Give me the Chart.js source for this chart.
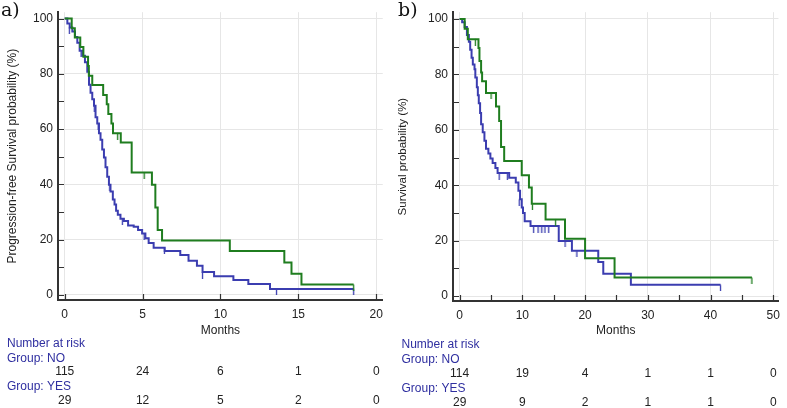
<!DOCTYPE html>
<html lang="en">
<head>
<meta charset="UTF-8">
<title>Kaplan-Meier curves</title>
<script src="https://cdn.jsdelivr.net/npm/chart.js"></script>
<style>
  body { margin: 0; background: #fff; }
  #wrap { position: relative; width: 787px; height: 408px; }
  canvas { position: absolute; top: 0; }
</style>
</head>
<body>
<div id="wrap">
  <canvas id="pfsChart" width="390" height="408" style="left:0"></canvas>
  <canvas id="osChart" width="397" height="408" style="left:390px"></canvas>
</div>
<script>
// a) progression-free survival (months, % after each step)
const pfsNoMonths = [0, 0.17, 0.32, 0.49, 0.66, 0.81, 0.96, 1.13, 1.3, 1.45, 1.56, 1.66, 1.77, 1.88, 1.98, 2.09, 2.2, 2.3, 2.41, 2.52, 2.62, 2.73, 2.84, 2.94, 3.09, 3.2, 3.3, 3.41, 3.58, 3.8, 4.07, 4.43, 4.71, 4.97, 5.18, 5.39, 5.71, 6.42, 7.42, 7.95, 8.49, 8.85, 9.59, 10.83, 11.79, 13.18, 18.55];
const pfsNoSurv   = [100, 98.2, 96.8, 95.3, 93.3, 91.2, 88.3, 86.5, 84.2, 80.7, 76, 73.1, 70.8, 68.4, 64.3, 62, 58.5, 56.1, 52.6, 49.7, 46.2, 42.7, 39.8, 37.4, 34.5, 32.7, 30.4, 29, 27.5, 26.7, 25.1, 24.6, 23.4, 22.2, 20.5, 18.7, 17, 15.8, 14.4, 12.3, 10.5, 8.2, 6.7, 5.3, 3.9, 2.1, 2.1];
const pfsYesMonths = [0, 0.45, 0.65, 1.0, 1.2, 1.5, 1.55, 1.77, 2.47, 2.7, 2.8, 3.0, 3.1, 3.6, 4.3, 5.6, 5.82, 5.97, 6.25, 10.6, 14.1, 14.56, 15.2, 18.55];
const pfsYesSurv   = [100, 96.5, 93.1, 89.7, 86.2, 82.8, 79.3, 75.9, 72.3, 69, 65.4, 62, 58.5, 55.1, 44.3, 39.8, 31.6, 23.4, 19.6, 15.8, 11.7, 7.6, 3.7, 3.7];
const pfsNoCensor  = [[0.3, 96.8], [1.05, 88.3], [1.9, 68.4], [2.15, 62], [2.9, 39.8], [3.7, 27.5], [5.1, 22.2], [6.4, 17], [8.85, 8.2], [13.6, 2.1], [18.55, 2.1]];
const pfsYesCensor = [[3.4, 58.5], [5.1, 44.3], [18.55, 3.7]];
const pfsRiskTimes = [0, 5, 10, 15, 20];
const pfsRiskNo    = [115, 24, 6, 1, 0];
const pfsRiskYes   = [29, 12, 5, 2, 0];
const pfsXTicks    = [0, 5, 10, 15, 20];

// b) overall survival
const osNoMonths = [0, 0.4, 0.8, 1.16, 1.47, 1.68, 1.9, 2.1, 2.37, 2.5, 2.74, 2.9, 3.05, 3.26, 3.42, 3.68, 3.95, 4.2, 4.58, 4.9, 5.26, 5.7, 6.05, 7.9, 8.95, 9.37, 9.63, 9.9, 10.1, 10.37, 11.3, 15.8, 17.9, 22.1, 22.9, 27.3, 41.6];
const osNoSurv   = [100, 98.8, 97.1, 94.2, 91.8, 88.9, 86, 83.6, 81.9, 78.9, 75.4, 72.5, 69.6, 66.1, 62, 59.1, 56.1, 53.2, 51.5, 49.7, 48, 46.2, 44.4, 42.7, 41, 38, 35, 32, 30, 27, 25.3, 19.9, 16.4, 12.3, 8.1, 4.1, 4.1];
const osYesMonths = [0, 0.8, 1.3, 3.0, 3.16, 3.42, 3.58, 4.2, 5.8, 6.3, 6.6, 7.1, 9.9, 11.05, 11.5, 13.7, 16.8, 20.0, 24.7, 46.6];
const osYesSurv   = [100, 96.5, 92.7, 89.5, 84.8, 80.7, 77.5, 73.3, 68.4, 63.2, 53.8, 48.8, 43.6, 39.2, 33.3, 27.7, 20.7, 13.7, 6.7, 6.7];
const osNoCensor  = [[6.3, 44.4], [7.6, 44.4], [9.5, 35], [11.8, 25.3], [12.5, 25.3], [13.1, 25.3], [13.6, 25.3], [14.2, 25.3], [16.8, 19.9], [18.7, 16.4], [41.6, 4.1]];
const osYesCensor = [[2.5, 92.7], [5.0, 73.3], [11.6, 33.3], [15.3, 27.7], [46.6, 6.7]];
const osRiskTimes = [0, 10, 20, 30, 40, 50];
const osRiskNo    = [114, 19, 4, 1, 1, 0];
const osRiskYes   = [29, 9, 2, 1, 1, 0];
const osXTicks    = [0, 5, 10, 15, 20, 25, 30, 35, 40, 45, 50];

const yTicks = [0, 10, 20, 30, 40, 50, 60, 70, 80, 90, 100];

const blue = '#3b3db0';
const green = '#1f7d1f';
const axisColor = '#333';
const labelBlue = '#2f2fa0';

Chart.defaults.font.family = '"Liberation Sans", Arial, sans-serif';
Chart.defaults.color = '#222';

// small downward tick used as censoring mark
function censorMark(color) {
    const c = document.createElement('canvas');
    c.width = 3; c.height = 13;
    const g = c.getContext('2d');
    g.strokeStyle = color;
    g.lineWidth = 1.3;
    g.beginPath();
    g.moveTo(1.5, 6.5);
    g.lineTo(1.5, 13);
    g.stroke();
    return c;
}

function toPoints(xs, ys) {
    return xs.map((x, i) => ({ x: x, y: ys[i] }));
}

// inward tick marks on both axes
const innerTicks = {
    id: 'innerTicks',
    beforeDatasetsDraw(chart) {
        const { ctx, chartArea: a, scales: { x, y } } = chart;
        ctx.save();
        ctx.strokeStyle = axisColor;
        ctx.lineWidth = 1.2;
        ctx.beginPath();
        y.ticks.forEach(t => {
            const py = Math.round(y.getPixelForValue(t.value)) + 0.5;
            ctx.moveTo(a.left, py);
            ctx.lineTo(a.left + 6, py);
        });
        x.ticks.forEach(t => {
            const px = Math.round(x.getPixelForValue(t.value)) + 0.5;
            ctx.moveTo(px, a.bottom);
            ctx.lineTo(px, a.bottom - 6);
        });
        ctx.stroke();
        ctx.restore();
    }
};

// panel letter and number-at-risk table
const riskTable = {
    id: 'riskTable',
    afterDraw(chart, args, opts) {
        const { ctx, scales: { x } } = chart;
        const dy = opts.dy;
        ctx.save();
        ctx.font = '19px "DejaVu Serif", serif';
        ctx.fillStyle = '#111';
        ctx.textBaseline = 'middle';
        ctx.textAlign = 'left';
        ctx.fillText(opts.panel, opts.panelX, 11);

        ctx.font = '12px "Liberation Sans", Arial, sans-serif';
        ctx.fillStyle = labelBlue;
        ctx.fillText('Number at risk', opts.labelX, 343.5 + dy);
        ctx.fillText('Group: NO', opts.labelX, 358.5 + dy);
        ctx.fillText('Group: YES', opts.labelX, 387 + dy);
        ctx.fillStyle = '#222';
        ctx.textAlign = 'center';
        opts.times.forEach((t, i) => {
            const px = x.getPixelForValue(t);
            ctx.fillText(String(opts.no[i]), px, 372 + dy);
            ctx.fillText(String(opts.yes[i]), px, 401 + dy);
        });
        ctx.restore();
    }
};

function makeChart(id, cfg) {
    const datasets = [
        { type: 'line', data: toPoints(cfg.noX, cfg.noY), borderColor: blue, borderWidth: 2, stepped: true, pointRadius: 0, fill: false, order: 2 },
        { type: 'line', data: toPoints(cfg.yesX, cfg.yesY), borderColor: green, borderWidth: 2, stepped: true, pointRadius: 0, fill: false, order: 1 },
        { type: 'scatter', data: cfg.noCensor.map(p => ({ x: p[0], y: p[1] })), pointStyle: censorMark(blue), pointRadius: 4, order: 2 },
        { type: 'scatter', data: cfg.yesCensor.map(p => ({ x: p[0], y: p[1] })), pointStyle: censorMark(green), pointRadius: 4, order: 1 }
    ];
    return new Chart(document.getElementById(id), {
        type: 'line',
        data: { datasets: datasets },
        options: {
            responsive: false,
            animation: false,
            layout: { padding: { top: 3, right: cfg.padRight, bottom: 0, left: 0 } },
            plugins: {
                legend: { display: false },
                tooltip: { enabled: false },
                riskTable: cfg.risk
            },
            scales: {
                x: {
                    type: 'linear',
                    min: cfg.xMin,
                    max: cfg.xMax,
                    afterBuildTicks: s => { s.ticks = cfg.xTicks.map(v => ({ value: v })); },
                    afterFit: s => { s.height = 408 - cfg.areaBottom; },
                    ticks: {
                        padding: 7,
                        maxRotation: 0,
                        autoSkip: false,
                        font: { size: 12 },
                        callback: v => (v % cfg.xLabelStep === 0 ? v : '')
                    },
                    grid: {
                        drawTicks: false,
                        color: c => (c.tick && c.tick.value % cfg.xLabelStep === 0 ? '#e6e6e6' : 'rgba(0,0,0,0)')
                    },
                    border: { color: axisColor, width: 2 },
                    title: { display: true, text: 'Months', font: { size: 12 }, padding: { top: 0, bottom: 70 } }
                },
                y: {
                    type: 'linear',
                    min: cfg.yMin,
                    max: cfg.yMax,
                    afterBuildTicks: s => { s.ticks = yTicks.map(v => ({ value: v })); },
                    afterFit: s => { s.width = cfg.areaLeft; },
                    ticks: {
                        padding: 5,
                        autoSkip: false,
                        font: { size: 12 },
                        callback: v => (v % 20 === 0 ? v : '')
                    },
                    grid: {
                        drawTicks: false,
                        color: c => (c.tick && c.tick.value % 20 === 0 ? '#e6e6e6' : 'rgba(0,0,0,0)')
                    },
                    border: { color: axisColor, width: 2 },
                    title: { display: true, text: cfg.yTitle, font: { size: cfg.yTitleSize }, padding: { top: cfg.yTitlePad, bottom: 0 } }
                }
            }
        },
        plugins: [innerTicks, riskTable]
    });
}

makeChart('pfsChart', {
    noX: pfsNoMonths, noY: pfsNoSurv, yesX: pfsYesMonths, yesY: pfsYesSurv,
    noCensor: pfsNoCensor, yesCensor: pfsYesCensor,
    xMin: -0.43, xMax: 20.42, yMin: -1.9, yMax: 102.3,
    xTicks: pfsXTicks, xLabelStep: 5,
    areaLeft: 58, areaBottom: 300, padRight: 4, yTitlePad: 5, yTitleSize: 12,
    yTitle: 'Progression-free Survival probability (%)',
    risk: { panel: 'a)', panelX: 1, labelX: 7, dy: 0, times: pfsRiskTimes, no: pfsRiskNo, yes: pfsRiskYes }
});

makeChart('osChart', {
    noX: osNoMonths, noY: osNoSurv, yesX: osYesMonths, yesY: osYesSurv,
    noCensor: osNoCensor, yesCensor: osYesCensor,
    xMin: -1.06, xMax: 50.83, yMin: -1.75, yMax: 102.45,
    xTicks: osXTicks, xLabelStep: 10,
    areaLeft: 63, areaBottom: 301, padRight: 5, yTitlePad: 6, yTitleSize: 11.5,
    yTitle: 'Survival probability (%)',
    risk: { panel: 'b)', panelX: 8, labelX: 11.5, dy: 1.3, times: osRiskTimes, no: osRiskNo, yes: osRiskYes }
});
</script>
</body>
</html>
